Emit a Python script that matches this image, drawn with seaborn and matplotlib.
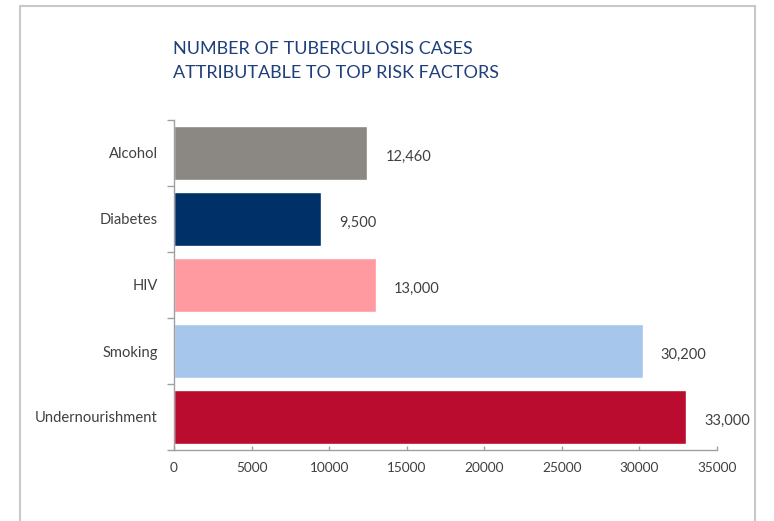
import matplotlib
matplotlib.use("Agg")
import matplotlib.pyplot as plt
import seaborn as sns
import pandas as pd
from matplotlib.ticker import FixedLocator

categories = ["Alcohol", "Diabetes", "HIV", "Smoking", "Undernourishment"]
values = [12460, 9500, 13000, 30200, 33000]
value_labels = ["12,460", "9,500", "13,000", "30,200", "33,000"]
colors = ["#8B8884", "#003068", "#FF9AA0", "#A7C6EC", "#BA0C2F"]
x_ticks = [0, 5000, 10000, 15000, 20000, 25000, 30000, 35000]

sns.set_theme(style="white")
plt.rcParams["font.family"] = ["Lato", "DejaVu Sans"]

df = pd.DataFrame({"category": categories, "value": values})

fig = plt.figure(figsize=(7.74, 5.21), dpi=100)
ax = fig.add_axes([174/774, 1-450/521, (717-174)/774, 330/521])

sns.barplot(data=df, y="category", x="value", hue="category",
            palette=colors, order=categories, hue_order=categories,
            width=0.83, dodge=False, legend=False, ax=ax, saturation=1)

ax.set_xlim(0, 35000)
ax.set_ylim(4.5, -0.5)
ax.set_xticks(x_ticks)
ax.set_xticklabels([str(t) for t in x_ticks])
ax.set_yticks(range(len(categories)))
ax.set_yticklabels(categories)
ax.yaxis.set_minor_locator(FixedLocator([i - 0.5 for i in range(len(categories) + 1)]))
ax.tick_params(axis="y", which="major", length=0, pad=11.5, labelsize=10.6, labelcolor="#404040")
ax.tick_params(axis="y", which="minor", length=5, width=1, color="#A0A0A0", direction="out", left=True)
ax.tick_params(axis="x", which="major", length=3, width=1, color="#A0A0A0", direction="in",
               pad=9, labelsize=9.8, labelcolor="#404040", bottom=True)
ax.set_xlabel("")
ax.set_ylabel("")

for s in ["top", "right"]:
    ax.spines[s].set_visible(False)
for s in ["left", "bottom"]:
    ax.spines[s].set_color("#A0A0A0")
    ax.spines[s].set_linewidth(1)

for i, (v, lab) in enumerate(zip(values, value_labels)):
    ax.annotate(lab, xy=(v, i), xytext=(13, -3), textcoords="offset points",
                ha="left", va="center", fontsize=10.5, color="#404040")

fig.text(173/774, 1-61/521, "NUMBER OF TUBERCULOSIS CASES\nATTRIBUTABLE TO TOP RISK FACTORS",
         ha="left", va="center", fontsize=13, color="#1F3F7A", linespacing=1.6)

# outer frame (open at bottom)
fig.add_artist(plt.Line2D([20/774, 20/774], [0, 1-6/521], transform=fig.transFigure, color="#C8C8C8", lw=1.5))
fig.add_artist(plt.Line2D([20/774, 755/774], [1-6/521, 1-6/521], transform=fig.transFigure, color="#C8C8C8", lw=1.5))
fig.add_artist(plt.Line2D([755/774, 755/774], [0, 1-6/521], transform=fig.transFigure, color="#C8C8C8", lw=1.5))

fig.savefig("out.png", dpi=100)
